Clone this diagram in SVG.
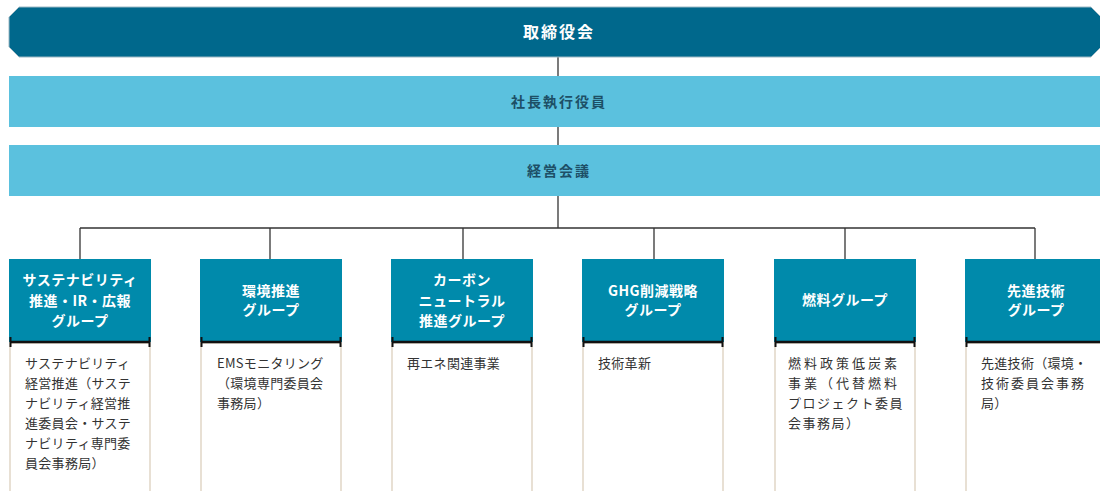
<svg xmlns="http://www.w3.org/2000/svg" width="1100" height="491" viewBox="0 0 1100 491">
<style>
.bg{fill:#ffffff}
.top{fill:#00688c;stroke:#9cb8c4;stroke-width:1}
.bar{fill:#5bc1de}
.hdr{fill:#008aab}
.body{fill:#ffffff;stroke:#e8e0d4;stroke-width:2}
.sep{stroke:#111;stroke-width:2.5;fill:none}
.tick{stroke:#111;stroke-width:2;fill:none}
.conn{stroke:#333;stroke-width:1.3;fill:none}
.t-top{font-family:"Noto Sans CJK JP","Noto Sans",sans-serif;font-size:16px;font-weight:bold;fill:#ffffff;text-anchor:middle;letter-spacing:2px}
.t-bar{font-family:"Noto Sans CJK JP","Noto Sans",sans-serif;font-size:14px;font-weight:bold;fill:#1d4f66;text-anchor:middle;letter-spacing:2px}
.t-hdr{font-family:"Noto Sans CJK JP","Noto Sans",sans-serif;font-size:14px;font-weight:bold;fill:#ffffff;text-anchor:middle;letter-spacing:0.5px}
.t-body{font-family:"Noto Sans CJK JP","Noto Sans",sans-serif;font-size:13px;fill:#333333;letter-spacing:0.3px}
.t-wide{letter-spacing:3px}
</style>
<rect class="bg" x="0" y="0" width="1100" height="491"/>
<g id="connectors">
<line class="conn" x1="558" y1="57" x2="558" y2="228"/>
<line class="conn" x1="80" y1="228" x2="1035" y2="228"/>
<line class="conn" x1="80" y1="228" x2="80" y2="259"/>
<line class="conn" x1="270" y1="228" x2="270" y2="259"/>
<line class="conn" x1="463" y1="228" x2="463" y2="259"/>
<line class="conn" x1="654" y1="228" x2="654" y2="259"/>
<line class="conn" x1="845" y1="228" x2="845" y2="259"/>
<line class="conn" x1="1035" y1="228" x2="1035" y2="259"/>
</g>
<g id="board">
<path class="top" d="M19,7 H1091 L1101,17 V47 L1091,57 H19 L9,47 V17 Z"/>
<text class="t-top" x="559" y="38">取締役会</text>
</g>
<g id="president">
<rect class="bar" x="9" y="76" width="1091" height="51"/>
<text class="t-bar" x="559" y="107">社長執行役員</text>
</g>
<g id="management">
<rect class="bar" x="9" y="145" width="1091" height="51"/>
<text class="t-bar" x="559" y="176">経営会議</text>
</g>
<g id="g1">
<rect class="hdr" x="9" y="259" width="142" height="83"/>
<rect class="body" x="10" y="343" width="140" height="150"/>
<line class="sep" x1="10" y1="342" x2="150" y2="342"/>
<line class="tick" x1="10.5" y1="337" x2="10.5" y2="347"/>
<line class="tick" x1="149.5" y1="337" x2="149.5" y2="347"/>
<text class="t-hdr" x="80" y="285">サステナビリティ</text>
<text class="t-hdr" x="80" y="306">推進・IR・広報</text>
<text class="t-hdr" x="80" y="326">グループ</text>
<text class="t-body" x="25" y="368">サステナビリティ</text>
<text class="t-body" x="25" y="388">経営推進（サステ</text>
<text class="t-body" x="25" y="408">ナビリティ経営推</text>
<text class="t-body" x="25" y="428">進委員会・サステ</text>
<text class="t-body" x="25" y="448">ナビリティ専門委</text>
<text class="t-body" x="25" y="468">員会事務局）</text>
</g>
<g id="g2">
<rect class="hdr" x="200" y="259" width="142" height="83"/>
<rect class="body" x="201" y="343" width="140" height="150"/>
<line class="sep" x1="201" y1="342" x2="341" y2="342"/>
<line class="tick" x1="201.5" y1="337" x2="201.5" y2="347"/>
<line class="tick" x1="340.5" y1="337" x2="340.5" y2="347"/>
<text class="t-hdr" x="271" y="296">環境推進</text>
<text class="t-hdr" x="271" y="315">グループ</text>
<text class="t-body" x="217" y="368">EMSモニタリング</text>
<text class="t-body" x="217" y="388">（環境専門委員会</text>
<text class="t-body" x="217" y="408">事務局）</text>
</g>
<g id="g3">
<rect class="hdr" x="391" y="259" width="142" height="83"/>
<rect class="body" x="392" y="343" width="140" height="150"/>
<line class="sep" x1="392" y1="342" x2="532" y2="342"/>
<line class="tick" x1="392.5" y1="337" x2="392.5" y2="347"/>
<line class="tick" x1="531.5" y1="337" x2="531.5" y2="347"/>
<text class="t-hdr" x="462" y="285">カーボン</text>
<text class="t-hdr" x="462" y="306">ニュートラル</text>
<text class="t-hdr" x="462" y="326">推進グループ</text>
<text class="t-body" x="407" y="368">再エネ関連事業</text>
</g>
<g id="g4">
<rect class="hdr" x="582" y="259" width="142" height="83"/>
<rect class="body" x="583" y="343" width="140" height="150"/>
<line class="sep" x1="583" y1="342" x2="723" y2="342"/>
<line class="tick" x1="583.5" y1="337" x2="583.5" y2="347"/>
<line class="tick" x1="722.5" y1="337" x2="722.5" y2="347"/>
<text class="t-hdr" x="653" y="296">GHG削減戦略</text>
<text class="t-hdr" x="653" y="315">グループ</text>
<text class="t-body" x="598" y="368">技術革新</text>
</g>
<g id="g5">
<rect class="hdr" x="774" y="259" width="142" height="83"/>
<rect class="body" x="775" y="343" width="140" height="150"/>
<line class="sep" x1="775" y1="342" x2="915" y2="342"/>
<line class="tick" x1="775.5" y1="337" x2="775.5" y2="347"/>
<line class="tick" x1="914.5" y1="337" x2="914.5" y2="347"/>
<text class="t-hdr" x="845" y="305">燃料グループ</text>
<text class="t-body t-wide" x="788" y="368">燃料政策低炭素</text>
<text class="t-body t-wide" x="788" y="388">事業（代替燃料</text>
<text class="t-body" x="788" y="408" style="letter-spacing:1.5px">プロジェクト委員</text>
<text class="t-body" x="788" y="428" style="letter-spacing:1.5px">会事務局）</text>
</g>
<g id="g6">
<rect class="hdr" x="965" y="259" width="142" height="83"/>
<rect class="body" x="966" y="343" width="140" height="150"/>
<line class="sep" x1="966" y1="342" x2="1106" y2="342"/>
<line class="tick" x1="966.5" y1="337" x2="966.5" y2="347"/>
<text class="t-hdr" x="1036" y="296">先進技術</text>
<text class="t-hdr" x="1036" y="315">グループ</text>
<text class="t-body" x="981" y="368">先進技術（環境・</text>
<text class="t-body" x="981" y="388" style="letter-spacing:2px">技術委員会事務</text>
<text class="t-body" x="981" y="408">局）</text>
</g>
</svg>
